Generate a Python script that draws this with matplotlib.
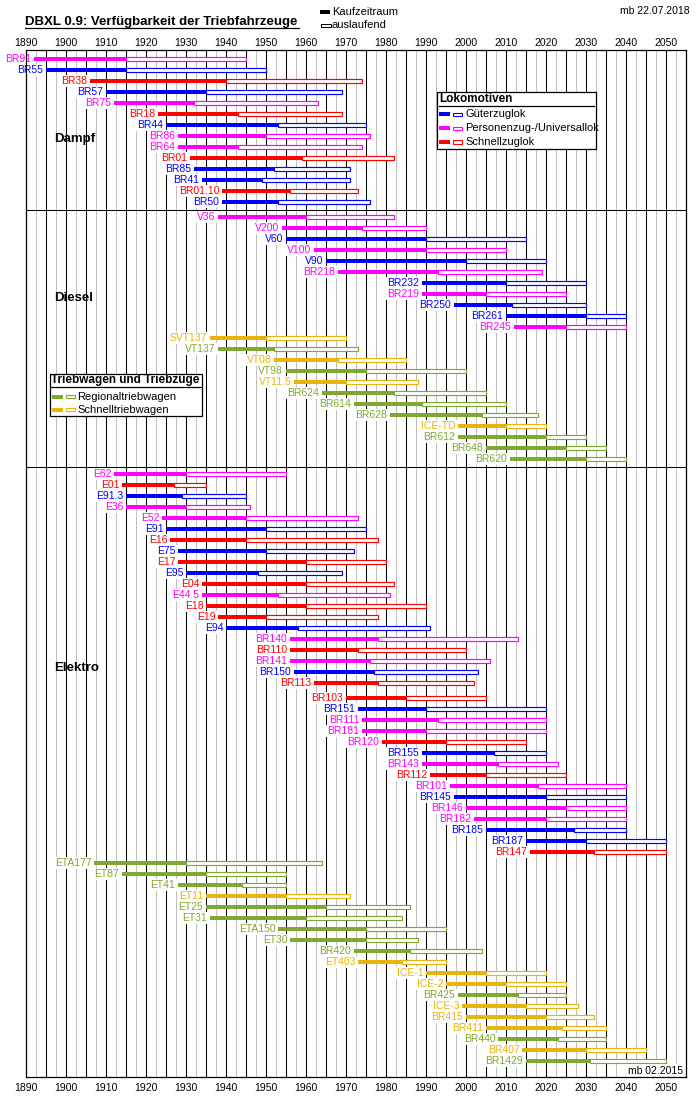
import numpy as np
import matplotlib
matplotlib.use("Agg")
import matplotlib.pyplot as plt
from matplotlib.patches import Rectangle
from matplotlib.lines import Line2D

plt.rcParams['font.family'] = ['Liberation Sans', 'DejaVu Sans']

# G = Gueterzuglok, P = Personenzug/Universal, S = Schnellzuglok,
# R = Regionaltriebwagen, T = Schnelltriebwagen
dampf_names = ["BR91", "BR55", "BR38", "BR57", "BR75", "BR18", "BR44", "BR86",
               "BR64", "BR01", "BR85", "BR41", "BR01.10", "BR50"]
dampf_types = ["P", "G", "S", "G", "P", "S", "G", "P", "P", "S", "G", "G", "S", "G"]
dampf_start = [1892, 1895, 1906, 1910, 1912, 1923, 1925, 1928, 1928, 1931, 1932, 1934, 1939, 1939]
dampf_kauf = [1915, 1915, 1940, 1935, 1932, 1943, 1953, 1950, 1943, 1959, 1952, 1949, 1956, 1953]
dampf_end = [1945, 1950, 1974, 1969, 1963, 1969, 1975, 1976, 1974, 1982, 1971, 1971, 1973, 1976]

diesel_names = ["V36", "V200", "V60", "V100", "V90", "BR218", "BR232", "BR219", "BR250",
                "BR261", "BR245", "SVT137", "VT137", "VT08", "VT98", "VT11.5", "BR624",
                "BR614", "BR628", "ICE-TD", "BR612", "BR648", "BR620"]
diesel_types = ["P", "P", "G", "P", "G", "P", "G", "P", "G", "G", "P", "T", "R", "T", "R",
                "T", "R", "R", "R", "T", "R", "R", "R"]
diesel_start = [1938, 1954, 1955, 1962, 1965, 1968, 1989, 1989, 1997, 2010, 2012, 1936,
                1938, 1952, 1955, 1957, 1964, 1972, 1981, 1998, 1998, 2005, 2011]
diesel_kauf = [1960, 1974, 1990, 1990, 2000, 1993, 2010, 2005, 2011.5, 2030, 2025, 1950,
               1952, 1968, 1975, 1970, 1982, 1989, 2004, 2010, 2020, 2025, 2030]
diesel_end = [1982, 1990, 2015, 2010, 2020, 2019, 2030, 2025, 2030, 2040, 2040, 1970,
              1973, 1985, 2000, 1988, 2005, 2010, 2018, 2020, 2030, 2035, 2040]

elektro_names = ["E62", "E01", "E91.3", "E36", "E52", "E91", "E16", "E75", "E17", "E95",
                 "E04", "E44.5", "E18", "E19", "E94", "BR140", "BR110", "BR141", "BR150",
                 "BR113", "BR103", "BR151", "BR111", "BR181", "BR120", "BR155", "BR143",
                 "BR112", "BR101", "BR145", "BR146", "BR182", "BR185", "BR187", "BR147",
                 "ETA177", "ET87", "ET41", "ET11", "ET25", "ET31", "ETA150", "ET30",
                 "BR420", "ET403", "ICE-1", "ICE-2", "BR425", "ICE-3", "BR415", "BR411",
                 "BR440", "BR407", "BR1429"]
elektro_types = ["P", "S", "G", "P", "P", "G", "S", "G", "S", "G",
                 "S", "P", "S", "S", "G", "P", "S", "P", "G",
                 "S", "S", "G", "P", "P", "S", "G", "P",
                 "S", "P", "G", "P", "P", "G", "G", "S",
                 "R", "R", "R", "T", "R", "R", "R", "R",
                 "R", "T", "T", "T", "R", "T", "T", "T",
                 "R", "T", "R"]
elektro_start = [1912, 1914, 1915, 1915, 1924, 1925, 1926, 1928, 1928, 1930,
                 1934, 1934, 1935, 1938, 1940, 1956, 1956, 1956, 1957,
                 1962, 1970, 1973, 1974, 1974, 1979, 1989, 1989,
                 1991, 1996, 1997, 2000, 2002, 2005, 2015, 2016,
                 1907, 1914, 1928, 1935, 1935, 1936, 1953, 1956,
                 1972, 1973, 1990, 1995, 1998, 1999, 2000, 2005,
                 2008, 2014, 2015]
elektro_kauf = [1930, 1927, 1929, 1930, 1945, 1950, 1945, 1950, 1960, 1948,
                1960, 1953, 1960, 1950, 1958, 1978, 1973, 1976, 1977,
                1978, 1985, 1990, 1993, 1990, 1995, 2007, 2008,
                2005, 2018, 2020, 2025, 2020, 2027, 2030, 2032,
                1930, 1935, 1944, 1955, 1965, 1960, 1975, 1975,
                1986, 1984, 2005, 2010, 2013, 2015, 2020, 2024,
                2023, 2030, 2031]
elektro_end = [1955, 1935, 1945, 1946, 1973, 1975, 1978, 1972, 1980, 1969,
               1982, 1981, 1990, 1978, 1991, 2013, 2000, 2006, 2003,
               2002, 2005, 2020, 2020, 2020, 2015, 2020, 2023,
               2025, 2040, 2040, 2040, 2040, 2040, 2050, 2050,
               1964, 1955, 1955, 1971, 1986, 1984, 1995, 1988,
               2004, 1995, 2020, 2025, 2025, 2028, 2032, 2035,
               2035, 2045, 2050]
label_type_override = {"BR120": "P"}
break_before = ["BR103"]

section_names = ["Dampf", "Diesel", "Elektro"]
section_label_rows = [7.27, 21.73, 55.36]

decades = list(range(1890, 2051, 10))

colors = {"G": "#0000ff", "P": "#ff00ff", "S": "#ff0000", "R": "#7fa830", "T": "#e8b50e"}

W, H = 700, 1100
fig = plt.figure(figsize=(W / 100, H / 100), dpi=100)
fig.patch.set_facecolor("white")

left_px, right_px, top_px, bot_px = 25.67, 685.67, 50, 1077
ax = fig.add_axes([left_px / W, 1 - bot_px / H, (right_px - left_px) / W, (bot_px - top_px) / H])
row_px = 11.0
gap = 4 / 11
y_top = -9 / row_px
ax.set_xlim(1890, 2055)
ax.set_ylim(y_top + (bot_px - top_px) / row_px, y_top)

for yr in np.arange(1892.5, 2055, 5):
    ax.axvline(yr, color="#c0c0c0", lw=0.75, zorder=0.5)
for yr in range(1895, 2055, 5):
    ax.axvline(yr, color="black", lw=0.75, zorder=0.6)

sections = [
    (dampf_names, dampf_types, dampf_start, dampf_kauf, dampf_end),
    (diesel_names, diesel_types, diesel_start, diesel_kauf, diesel_end),
    (elektro_names, elektro_types, elektro_start, elektro_kauf, elektro_end),
]

y = 0.0
for si, (names, types, st, ka, en) in enumerate(sections):
    if si > 0:
        ax.axhline(y - 1 + (1 + gap) / 2, color="black", lw=0.75, zorder=2)
        y += gap
    for n, t, s, k, e in zip(names, types, st, ka, en):
        if n in break_before:
            y += gap
        c = colors[t]
        ax.barh(y, k - s, left=s, height=0.37, color=c, linewidth=0, zorder=3)
        ax.barh(y, e - k, left=k, height=0.28, facecolor="white", edgecolor=c,
                linewidth=0.85, zorder=3)
        lc = colors[label_type_override.get(n, t)]
        ax.text(s - 0.6, y, n, ha="right", va="center", fontsize=7.5, color=lc, zorder=4,
                bbox=dict(boxstyle="square,pad=0.12", fc="white", ec="none"))
        y += 1

for name, r in zip(section_names, section_label_rows):
    ax.text(1897.1, r, name, ha="left", va="center", fontsize=9.5, fontweight="bold",
            color="black", zorder=4)

ax.set_xticks(decades)
ax.set_yticks([])
ax.tick_params(axis="x", bottom=True, labelbottom=True, length=0, labelsize=7.5, pad=4.5)
top_ax = ax.secondary_xaxis("top")
top_ax.set_xticks(decades)
top_ax.tick_params(axis="x", length=0, labelsize=7.5, pad=1.5)
top_ax.spines["top"].set_visible(False)
for sp in ax.spines.values():
    sp.set_linewidth(0.9)
    sp.set_color("black")
    sp.set_zorder(5)

ax.text(2054.3, y_top + (1071 - top_px) / row_px, "mb 02.2015", ha="right", va="center",
        fontsize=7.5, zorder=4, bbox=dict(boxstyle="square,pad=0.15", fc="white", ec="none"))


# figure-level decorations in pixel coordinates
def fx(x):
    return x / W


def fy(yp):
    return 1 - yp / H


def rect(x0, y0, x1, y1, fc, ec="none", lw=0.0):
    fig.add_artist(Rectangle((fx(x0), fy(y1)), fx(x1) - fx(x0), fy(y0) - fy(y1),
                             transform=fig.transFigure, facecolor=fc, edgecolor=ec,
                             linewidth=lw, zorder=6))


def hline(x0, x1, yp, lw=0.9):
    fig.add_artist(Line2D([fx(x0), fx(x1)], [fy(yp), fy(yp)], transform=fig.transFigure,
                          color="black", lw=lw, zorder=7))


fig.text(fx(25), fy(22), "DBXL 0.9: Verfügbarkeit der Triebfahrzeuge", ha="left", va="center",
         fontsize=9.5, fontweight="bold")
hline(25, 299, 27.8)
fig.text(fx(690), fy(11), "mb 22.07.2018", ha="right", va="center", fontsize=7.5)

rect(320, 10, 330, 14, "black")
fig.text(fx(332), fy(12), "Kaufzeitraum", ha="left", va="center", fontsize=8)
rect(320.5, 23.5, 330.5, 27, "white", "black", 0.75)
fig.text(fx(332), fy(25.5), "auslaufend", ha="left", va="center", fontsize=8)

# Lokomotiven legend
rect(437.3, 92.3, 595.7, 149.3, "white", "black", 0.9)
fig.text(fx(438.8), fy(98.5), "Lokomotiven", ha="left", va="center", fontsize=8.5,
         fontweight="bold", zorder=8)
hline(438.5, 594, 105.5)
loco_legend = [("G", "Güterzuglok", 114), ("P", "Personenzug-/Universallok", 128),
               ("S", "Schnellzuglok", 142)]
for t, txt, yp in loco_legend:
    rect(439, yp - 2, 449.5, yp + 2, colors[t])
    rect(452.5, yp - 1.5, 462.5, yp + 1.5, "white", colors[t], 0.8)
    fig.text(fx(465), fy(yp), txt, ha="left", va="center", fontsize=8, zorder=8)

# Triebwagen legend
rect(50, 374.3, 202.3, 416, "white", "black", 0.9)
fig.text(fx(51.5), fy(380.5), "Triebwagen und Triebzüge", ha="left", va="center",
         fontsize=8.5, fontweight="bold", zorder=8)
hline(51, 200.5, 387.3)
tw_legend = [("R", "Regionaltriebwagen", 396.7), ("T", "Schnelltriebwagen", 410)]
for t, txt, yp in tw_legend:
    rect(52, yp - 2, 62.7, yp + 2, colors[t])
    rect(65.5, yp - 1.5, 75.3, yp + 1.5, "white", colors[t], 0.8)
    fig.text(fx(77.3), fy(yp), txt, ha="left", va="center", fontsize=8, zorder=8)

fig.savefig("out.png", dpi=100, facecolor="white")
